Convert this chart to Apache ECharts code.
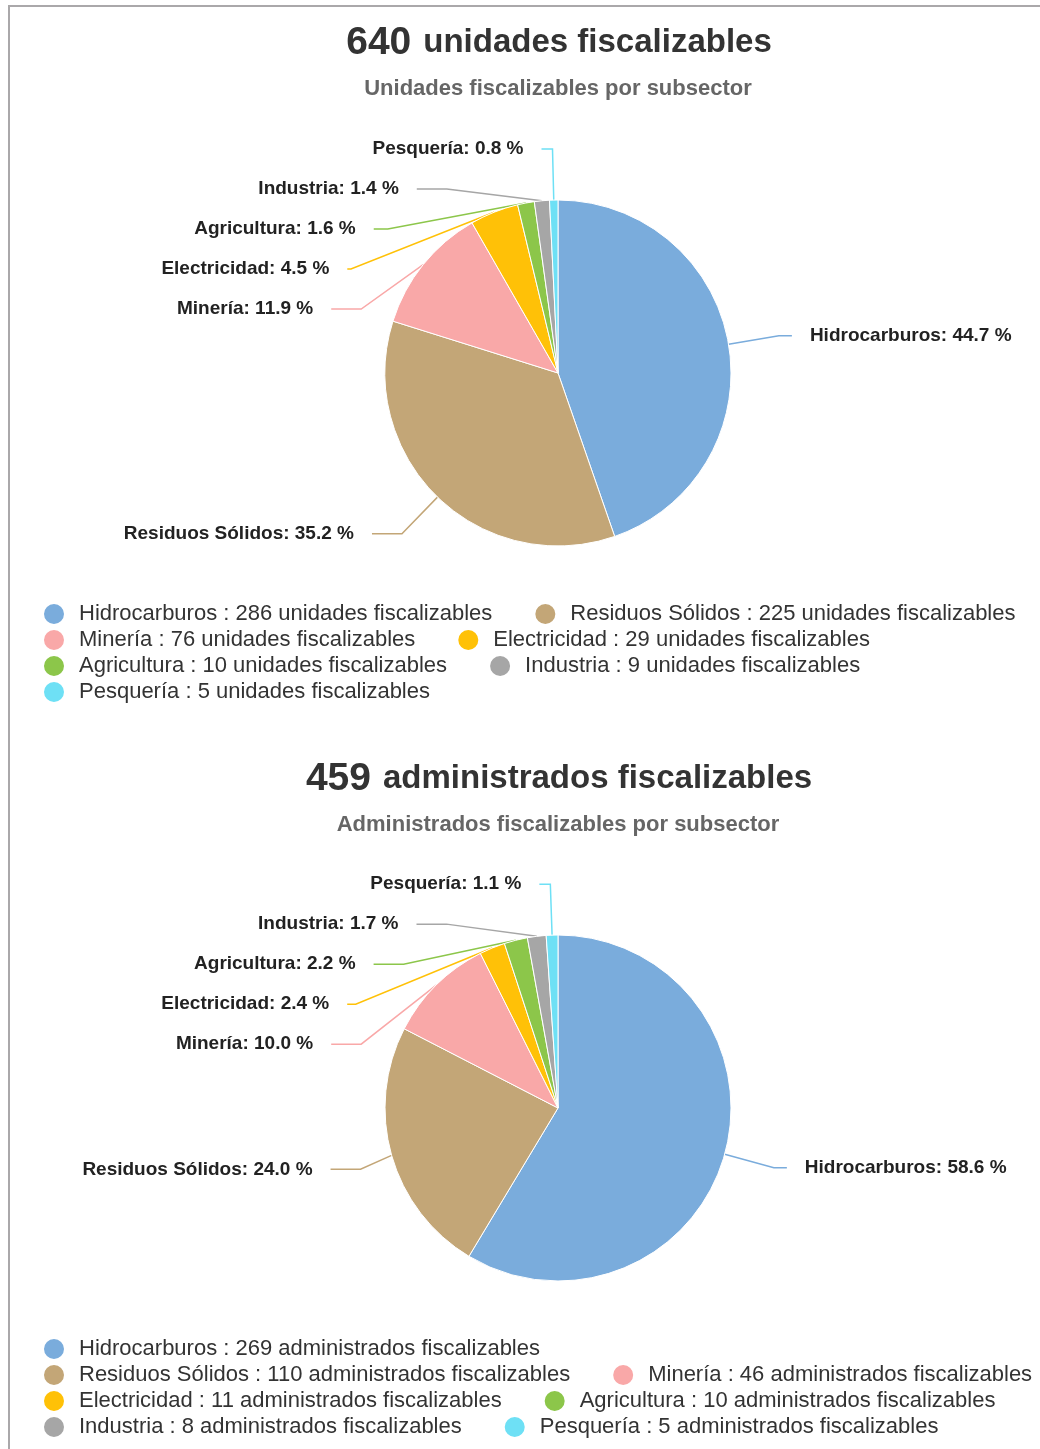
<!DOCTYPE html>
<html>
<head>
<meta charset="utf-8">
<script src="https://cdn.jsdelivr.net/npm/echarts@6/dist/echarts.min.js"></script>
<style>
  html, body { margin: 0; padding: 0; background: #fff; overflow: hidden; }
  #frame {
    position: absolute; left: 8px; top: 5px;
    width: calc(100% - 10px); height: 1449px;
    border-top: 2px solid #aaa8aa; border-left: 2px solid #aaa8aa;
  }
  #chart { position: absolute; left: 0; top: 0; width: 1040px; height: 1449px; }
</style>
</head>
<body>
<div id="frame"></div>
<div id="chart"></div>
<script>
const subsectors = ['Hidrocarburos', 'Residuos Sólidos', 'Minería', 'Electricidad', 'Agricultura', 'Industria', 'Pesquería']
const colors = ['#7aacdc', '#c3a677', '#f9a8a8', '#ffc107', '#8cc64a', '#a6a6a6', '#6ee0f5']
const unidades = [286, 225, 76, 29, 10, 9, 5]
const administrados = [269, 110, 46, 11, 10, 8, 5]

const font = 'Liberation Sans, Arial, sans-serif'
const sum = (arr) => arr.reduce((a, b) => a + b, 0)

function pieData(values) {
  return subsectors.map((name, i) => {
    const item = { name, value: values[i], itemStyle: { color: colors[i] } }
    // big slices: no stacking gap needed
    if (i < 2) item.label = { padding: [14, 0, 6, 0] }
    // the right-hand label and the topmost one sit closer in
    if (i === 0 || i === subsectors.length - 1) item.labelLine = { length2: i === 0 ? 13 : 11 }
    return item
  })
}

function pieSeries(values, cy) {
  const total = sum(values)
  return {
    type: 'pie',
    center: [558, cy],
    radius: 173,
    startAngle: 90,
    clockwise: true,
    data: pieData(values),
    itemStyle: { borderColor: '#fff', borderWidth: 1 },
    emphasis: { scale: false },
    label: {
      position: 'outside',
      alignTo: 'none',
      distanceToLabelLine: 18,
      fontFamily: font,
      fontSize: 19,
      fontWeight: 'bold',
      color: '#222',
      lineHeight: 20,
      padding: [17, 0, 1, 0],
      formatter: (p) => p.name + ': ' + (Math.round((p.value * 1000) / total) / 10).toFixed(1) + ' %',
    },
    labelLine: { show: true, length: 51, length2: 30, lineStyle: { width: 1.5 } },
  }
}

function legend(values, suffix, top) {
  return {
    data: subsectors,
    icon: 'circle',
    left: 42,
    top,
    width: 1040,
    padding: 0,
    itemWidth: 22,
    itemHeight: 22,
    itemGap: 2,
    textStyle: { fontFamily: font, fontSize: 22, color: '#333', lineHeight: 22, padding: [0, 39, 0, 9] },
    formatter: (name) => name + ' : ' + values[subsectors.indexOf(name)] + ' ' + suffix,
  }
}

function mainTitle(count, label, top) {
  return {
    text: '{a|' + count + '}{b|' + label + '}',
    left: 559,
    top,
    padding: 0,
    textAlign: 'center',
    textStyle: {
      rich: {
        a: { fontFamily: font, fontSize: 39, fontWeight: 'bold', color: '#333', lineHeight: 44, padding: [0, 12, 0, 0] },
        b: { fontFamily: font, fontSize: 33, fontWeight: 'bold', color: '#333', lineHeight: 44 },
      },
    },
  }
}

function subTitle(text, top) {
  return {
    text,
    left: 558,
    top,
    padding: 0,
    textAlign: 'center',
    textStyle: { fontFamily: font, fontSize: 22, fontWeight: 'bold', color: '#666', lineHeight: 24 },
  }
}

const chart = echarts.init(document.getElementById('chart'))
chart.setOption({
  animation: false,
  title: [
    mainTitle(sum(unidades), 'unidades fiscalizables', 21),
    subTitle('Unidades fiscalizables por subsector', 77),
    mainTitle(sum(administrados), 'administrados fiscalizables', 757),
    subTitle('Administrados fiscalizables por subsector', 813),
  ],
  legend: [
    legend(unidades, 'unidades fiscalizables', 602),
    legend(administrados, 'administrados fiscalizables', 1337),
  ],
  series: [pieSeries(unidades, 373), pieSeries(administrados, 1108)],
})
window.addEventListener('resize', () => chart.resize())
</script>
</body>
</html>
